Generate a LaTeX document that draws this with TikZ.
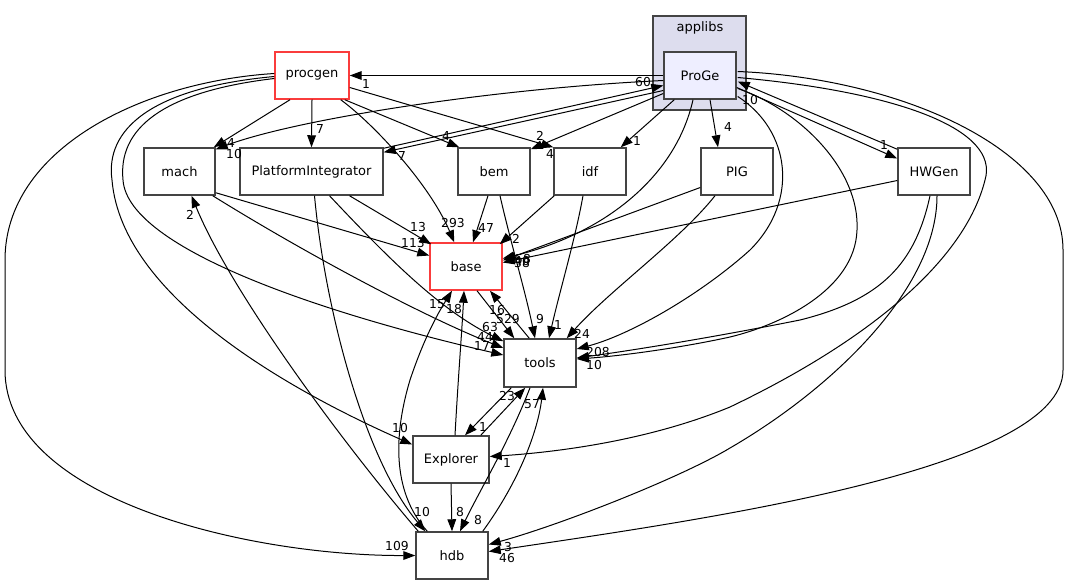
\documentclass[tikz,border=0pt]{standalone}
\usepackage{fontspec}
\setmainfont{DejaVu Sans}
\usetikzlibrary{arrows.meta, calc}
\definecolor{nodeline}{RGB}{68,68,68}
\definecolor{redline}{RGB}{250,60,60}
\definecolor{clusterfill}{RGB}{221,221,238}
\definecolor{progefill}{RGB}{238,238,255}

\begin{document}
\begin{tikzpicture}[x=0.75pt, y=-0.75pt,
  dirnode/.style={draw=nodeline, line width=1.1pt, fill=white, minimum width=54pt,
    minimum height=35.25pt, inner sep=0pt, font=\fontsize{9.75}{10}\selectfont},
  rednode/.style={dirnode, draw=redline},
  dep/.style={-{Triangle[length=9pt,width=6.5pt]}, line width=0.75pt},
  lbl/.style={inner sep=0pt, font=\fontsize{9.25}{9}\selectfont}]
\useasboundingbox (0,0) rectangle (1069,585);
% cluster
\draw[draw=nodeline, line width=1pt, fill=clusterfill] (653,16) rectangle (746,110);
\node[font=\fontsize{9.75}{10}\selectfont] (applibs) at (700,28) {applibs};
% directories
\node[dirnode, fill=progefill] (ProGe) at (700,75.5) {ProGe};
\node[rednode, minimum width=55.5pt] (procgen) at (312,75.5) {procgen};
\node[dirnode, minimum width=53.25pt] (mach) at (179.5,171.5) {mach};
\node[dirnode, minimum width=107.25pt] (PI) at (311.5,171.5) {PlatformIntegrator};
\node[dirnode] (bem) at (494,171.5) {bem};
\node[dirnode] (idf) at (590,171.5) {idf};
\node[dirnode] (PIG) at (737,171.5) {PIG};
\node[dirnode] (HWGen) at (934,171.5) {HWGen};
\node[rednode] (base) at (466,266.5) {base};
\node[dirnode, minimum height=36pt] (tools) at (540,363) {tools};
\node[dirnode, minimum width=57pt] (Explorer) at (451,459.5) {Explorer};
\node[dirnode] (hdb) at (452,555.5) {hdb};
% procgen
\draw[dep] ($(procgen.south)+(-22,0)$) -- ($(mach.north east)+(-2,0)$) node[lbl] (l1) at (231,143) {4};
\draw[dep] (procgen.south) -- (PI.north) node[lbl] (l2) at (320,129) {7};
\draw[dep] ($(procgen.south east)+(-5,0)$) -- ($(bem.north west)+(2,0)$) node[lbl] (l3) at (446,136) {4};
\draw[dep] ($(procgen.east)+(0,12)$) -- (idf.north west) node[lbl] (l4) at (540,136) {2};
\draw[dep] ($(procgen.south east)+(-9,0)$) .. controls (375,125) and (430,185) .. ($(base.north west)+(25,0)$) node[lbl] (l5) at (453,223) {293};
\draw[dep] ($(procgen.west)+(0,3)$) .. controls (160,92) and (118,130) .. (123,180)
  .. controls (128,250) and (330,315) .. ($(tools.west)+(0,-8)$) node[lbl] (l6) at (482,346) {17};
\draw[dep] ($(procgen.west)+(0,1)$) .. controls (150,88) and (105,130) .. (112,180)
  .. controls (122,300) and (300,395) .. ($(Explorer.west)+(0,-15)$) node[lbl] (l7) at (400,428) {10};
\draw[dep] ($(procgen.west)+(0,-2)$) .. controls (140,82) and (5,150) .. (5,260) -- (5,370)
  .. controls (5,500) and (250,556) .. (hdb.west) node[lbl] (l8) at (397,546) {109};
% ProGe
\draw[dep] (ProGe.west) -- (procgen.east) node[lbl] (l9) at (366,84) {1};
\draw[dep] ($(ProGe.west)+(0,5)$) .. controls (500,88) and (300,118) .. ($(mach.north east)+(0,2)$) node[lbl] (l10) at (234,154) {10};
\draw[dep] ($(PI.north east)+(0,1)$) -- ($(ProGe.west)+(0,10)$) node[lbl] (l11) at (643,82) {60};
\draw[dep] ($(ProGe.west)+(0,15)$) -- ($(PI.north east)+(0,5)$) node[lbl] (l12) at (402,156) {7};
\draw[dep] ($(ProGe.west)+(0,18)$) -- ($(bem.north east)+(0,2)$) node[lbl] (l13) at (550,154) {4};
\draw[dep] ($(ProGe.south west)+(11,0)$) -- ($(idf.north east)+(-6,0)$) node[lbl] (l14) at (637,141) {1};
\draw[dep] ($(ProGe.south)+(10,0)$) -- ($(PIG.north)+(-19,0)$) node[lbl] (l15) at (728,127) {4};
\draw[dep] ($(ProGe.east)+(0,12)$) -- ($(HWGen.west)+(0,-13)$) node[lbl] (l16) at (884,145) {1};
\draw[dep] ($(HWGen.north west)+(0,2)$) -- ($(ProGe.east)+(1,6)$) node[lbl] (l17) at (750,100) {10};
\draw[dep] ($(ProGe.south)+(-7,0)$) .. controls (675,180) and (600,235) .. ($(base.east)+(0,-8)$) node[lbl] (l18) at (523,259) {58};
\draw[dep] ($(ProGe.east)+(1,21)$) .. controls (790,130) and (800,200) .. (750,250)
  .. controls (700,295) and (630,335) .. ($(tools.east)+(0,-14)$) node[lbl] (l19) at (598,352) {208};
\draw[dep] ($(ProGe.east)+(1,13)$) .. controls (800,110) and (860,170) .. (857,230)
  .. controls (855,290) and (780,325) .. (730,337) .. controls (680,348) and (620,356) .. ($(tools.east)+(0,-4)$) node[lbl] (l20) at (594,365) {10};
\draw[dep] ($(ProGe.east)+(1,2)$) .. controls (900,92) and (1000,130) .. (985,180)
  .. controls (965,260) and (870,340) .. (730,407) .. controls (650,440) and (560,452) .. ($(Explorer.east)+(0,-3)$) node[lbl] (l21) at (507,463) {1};
\draw[dep] ($(ProGe.east)+(1,-4)$) .. controls (900,78) and (1063,150) .. (1063,250) -- (1063,370)
  .. controls (1063,470) and (700,520) .. ($(hdb.east)+(0,-4)$) node[lbl] (l22) at (507,558) {46};
% PIG, HWGen
\draw[dep] ($(PIG.west)+(0,16)$) -- ($(base.east)+(0,-6)$) node[lbl] (l23) at (522,263) {38};
\draw[dep] ($(HWGen.west)+(0,9)$) -- ($(base.east)+(0,-4)$) node[lbl] (l24) at (522,261) {40};
\draw[dep] ($(HWGen.south)+(3,0)$) .. controls (937,290) and (830,390) .. (730,448)
  .. controls (680,478) and (560,525) .. ($(hdb.east)+(0,-11)$) node[lbl] (l25) at (508,547) {3};
\draw[dep] ($(HWGen.south)+(-4,0)$) .. controls (915,265) and (880,300) .. (800,320)
  .. controls (700,340) and (620,352) .. ($(tools.east)+(0,-5)$);
\draw[dep] ($(PIG.south)+(-22,0)$) .. controls (680,240) and (610,290) .. ($(tools.north east)+(-10,0)$) node[lbl] (l26) at (582,334) {24};
% into base and tools
\draw[dep] ($(idf.south)+(-7,0)$) .. controls (575,240) and (560,290) .. ($(tools.north)+(9,0)$) node[lbl] (l27) at (558,325) {1};
\draw[dep] ($(bem.south)+(6,0)$) .. controls (510,240) and (525,290) .. ($(tools.north)+(-5,0)$) node[lbl] (l28) at (540,319) {9};
\draw[dep] ($(base.south)+(11,0)$) -- ($(tools.north west)+(11,0)$) node[lbl] (l29) at (508,319) {529};
\draw[dep] ($(tools.north west)+(26,0)$) -- ($(base.south)+(24,0)$) node[lbl] (l30) at (497,310) {16};
\draw[dep] ($(mach.south east)+(-3,0)$) .. controls (300,250) and (420,315) .. ($(tools.west)+(0,-15)$) node[lbl] (l31) at (485,337) {44};
\draw[dep] ($(PI.south)+(18,0)$) .. controls (390,260) and (440,310) .. ($(tools.north west)+(0,3)$) node[lbl] (l32) at (490,327) {63};
\draw[dep] ($(PI.south)+(38,0)$) -- ($(base.north west)+(2,2)$) node[lbl] (l33) at (418,227) {13};
\draw[dep] ($(mach.south east)+(0,-3)$) -- ($(base.west)+(0,-11)$) node[lbl] (l34) at (413,243) {113};
\draw[dep] ($(bem.south)+(-6,0)$) -- ($(base.north)+(7,0)$) node[lbl] (l35) at (486,228) {47};
\draw[dep] ($(idf.south west)+(1,0)$) -- ($(base.north east)+(-3,2)$) node[lbl] (l36) at (516,239) {2};
% hdb and Explorer
\draw[dep] ($(PI.south)+(3,0)$) .. controls (325,310) and (365,460) .. ($(hdb.north west)+(10,0)$) node[lbl] (l37) at (422,512) {10};
\draw[dep] ($(hdb.north west)+(3,0)$) .. controls (340,440) and (230,290) .. ($(mach.south)+(12,0)$) node[lbl] (l38) at (190,215) {2};
\draw[dep] ($(hdb.north west)+(12,0)$) .. controls (390,490) and (395,430) .. (410,380)
  .. controls (425,335) and (440,310) .. ($(base.south)+(-14,0)$) node[lbl] (l39) at (437,304) {15};
\draw[dep] ($(Explorer.north)+(4,0)$) .. controls (458,380) and (462,330) .. ($(base.south)+(-2,0)$) node[lbl] (l40) at (454,309) {18};
\draw[dep] ($(tools.south west)+(8,0)$) -- ($(Explorer.north)+(14,0)$) node[lbl] (l41) at (483,427) {1};
\draw[dep] ($(Explorer.north east)+(-9,0)$) -- ($(tools.south west)+(22,0)$) node[lbl] (l42) at (507,396) {23};
\draw[dep] (Explorer.south) -- (hdb.north) node[lbl] (l43) at (460,512) {8};
\draw[dep] ($(tools.south)+(-10,0)$) .. controls (510,440) and (480,490) .. ($(hdb.north)+(8,0)$) node[lbl] (l44) at (478,520) {8};
\draw[dep] ($(hdb.north east)+(-6,0)$) .. controls (520,480) and (538,430) .. ($(tools.south)+(3,0)$) node[lbl] (l45) at (532,404) {57};
\end{tikzpicture}
\end{document}
